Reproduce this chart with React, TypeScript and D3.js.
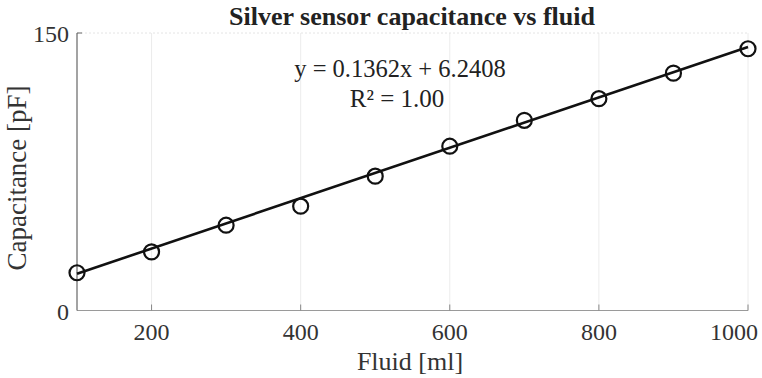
import { useEffect, useRef } from "react"
import * as d3 from "d3"

const fluid = [100, 200, 300, 400, 500, 600, 700, 800, 900, 1000]
const capacitance = [20.4, 31.7, 46.1, 56.4, 72.6, 88.8, 102.8, 114.5, 128.3, 141.5]
const xTicks = [200, 400, 600, 800, 1000]
const yTicks = [0, 150]
const slope = 0.1362
const intercept = 6.2408
const fitX = [100, 1000]

export default function App() {
    const svgRef = useRef<SVGSVGElement>(null)

    useEffect(() => {
        const width = 762, height = 378
        const margin = { top: 33, right: 14, bottom: 67, left: 77 }
        const ht = height - margin.top - margin.bottom
        const font = "'Liberation Serif', 'Times New Roman', serif"

        d3.select(svgRef.current).selectAll("*").remove()
        const root = d3.select(svgRef.current)
            .attr("width", width)
            .attr("height", height)
            .style("font-family", font)
        root.append("rect").attr("width", width).attr("height", height).attr("fill", "#fff")

        const svg = root.append("g")
            .attr("transform", `translate(${margin.left},${margin.top})`)

        const x = d3.scaleLinear().domain([100, 1000]).range([0, 671])
        const y = d3.scaleLinear().domain([0, 150]).range([ht - 0.5, 0])

        // faint grid
        svg.selectAll(".vgrid")
            .data(xTicks)
            .join("line")
                .attr("x1", d => x(d)).attr("x2", d => x(d))
                .attr("y1", 0).attr("y2", ht)
                .attr("stroke", "#ececec")
                .attr("stroke-width", 1)
        svg.append("line")
            .attr("x1", 0).attr("x2", x(1000))
            .attr("y1", y(150)).attr("y2", y(150))
            .attr("stroke", "#e4e4e4")
            .attr("stroke-dasharray", "2,2")

        // axes
        svg.append("line")
            .attr("x1", 0).attr("x2", x(1000))
            .attr("y1", y(0)).attr("y2", y(0))
            .attr("stroke", "#9a9a9a").attr("stroke-width", 1.2)
        svg.append("line")
            .attr("x1", 0).attr("x2", 0)
            .attr("y1", y(0)).attr("y2", y(150))
            .attr("stroke", "#666").attr("stroke-width", 1.2)

        svg.selectAll(".xtick")
            .data(xTicks)
            .join("line")
                .attr("x1", d => x(d)).attr("x2", d => x(d))
                .attr("y1", y(0)).attr("y2", y(0) - 6)
                .attr("stroke", "#888")
        svg.selectAll(".xlabel")
            .data(xTicks)
            .join("text")
                .attr("x", d => d === 1000 ? x(d) + 10 : x(d))
                .attr("y", ht + 29)
                .attr("text-anchor", d => d === 1000 ? "end" : "middle")
                .style("font-size", "24px")
                .attr("fill", "#333")
                .text(d => d)

        svg.append("line")
            .attr("x1", 0).attr("x2", 5)
            .attr("y1", y(150)).attr("y2", y(150))
            .attr("stroke", "#666")
        svg.selectAll(".ylabel")
            .data(yTicks)
            .join("text")
                .attr("x", -8)
                .attr("y", d => y(d) + 9)
                .attr("text-anchor", "end")
                .style("font-size", "24px")
                .attr("fill", "#333")
                .text(d => d)

        // fit line
        const line = d3.line<number>()
            .x(d => x(d))
            .y(d => y(slope * d + intercept))
        svg.append("path")
            .datum(fitX)
            .attr("d", line)
            .attr("fill", "none")
            .attr("stroke", "#111")
            .attr("stroke-width", 2.6)

        // markers
        svg.selectAll(".pt")
            .data(fluid)
            .join("circle")
                .attr("cx", d => x(d))
                .attr("cy", (d, i) => y(capacitance[i]))
                .attr("r", 7.5)
                .attr("fill", "none")
                .attr("stroke", "#111")
                .attr("stroke-width", 2.2)

        // equation
        svg.append("text")
            .attr("x", 400 - margin.left)
            .attr("y", 77 - margin.top)
            .attr("text-anchor", "middle")
            .style("font-size", "24.5px")
            .attr("fill", "#222")
            .text(`y = ${slope}x + ${intercept}`)
        svg.append("text")
            .attr("x", 397 - margin.left)
            .attr("y", 107 - margin.top)
            .attr("text-anchor", "middle")
            .style("font-size", "25px")
            .attr("fill", "#222")
            .text("R² = 1.00")

        // title
        root.append("text")
            .attr("x", 412)
            .attr("y", 25)
            .attr("text-anchor", "middle")
            .style("font-size", "26px")
            .style("font-weight", "bold")
            .attr("fill", "#222")
            .text("Silver sensor capacitance vs fluid")

        // axis labels
        root.append("text")
            .attr("x", 410)
            .attr("y", 370)
            .attr("text-anchor", "middle")
            .style("font-size", "26px")
            .attr("fill", "#333")
            .text("Fluid [ml]")
        root.append("text")
            .attr("transform", "translate(26,178) rotate(-90)")
            .attr("text-anchor", "middle")
            .style("font-size", "27px")
            .attr("fill", "#333")
            .text("Capacitance [pF]")
    }, [])

    return (
        <div style={{ position: "absolute", left: 0, top: 0 }}>
            <svg ref={svgRef}></svg>
        </div>
    )
}
